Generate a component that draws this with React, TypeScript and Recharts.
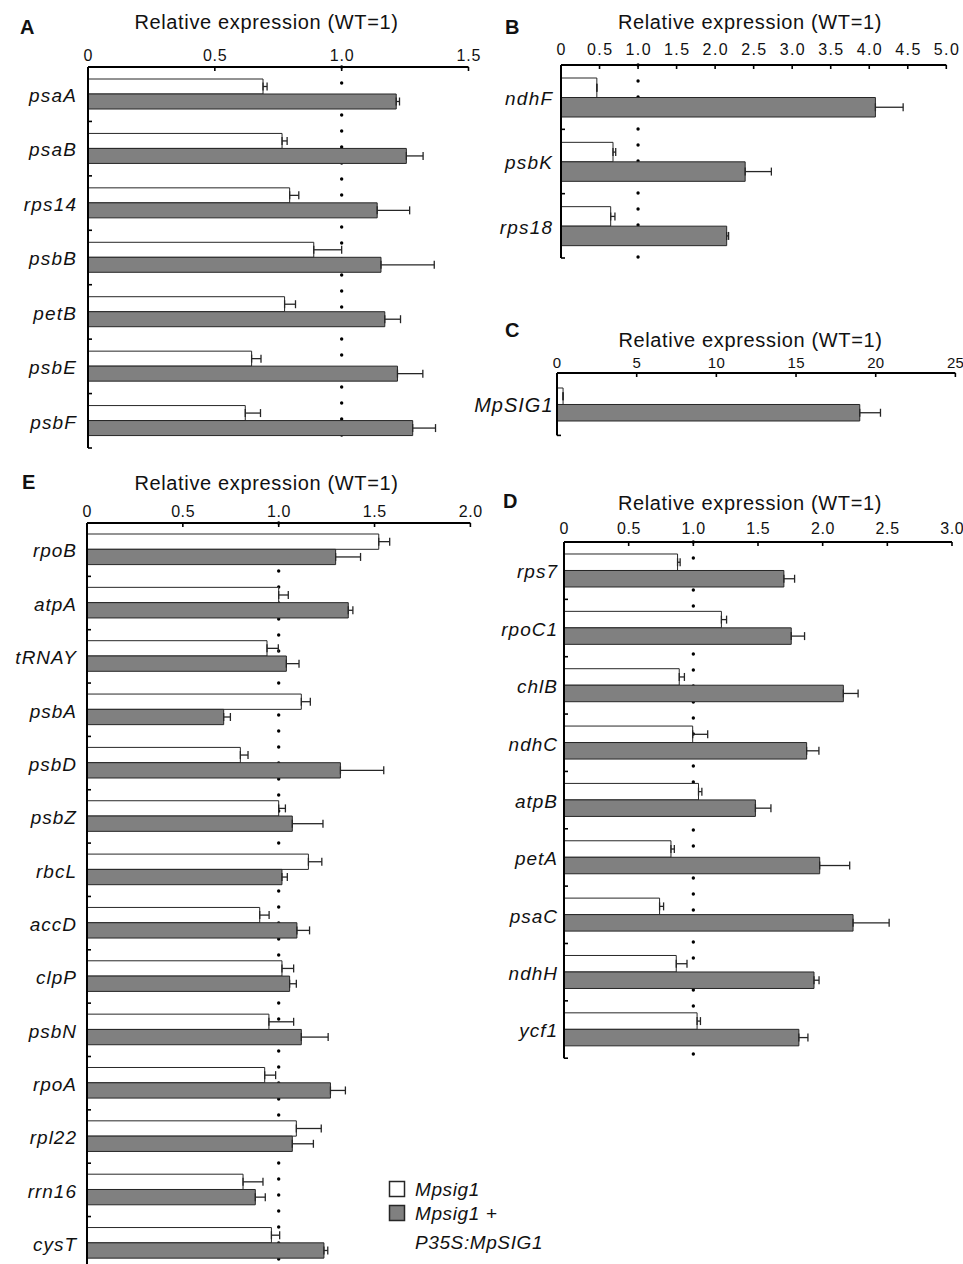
import React from 'react';
import { BarChart, Bar, XAxis, YAxis, CartesianGrid, ErrorBar } from 'recharts';

const FONT = '"Liberation Sans", Arial, Helvetica, sans-serif';
const GRAY = '#808080';
const EDGE = '#262626';

// ---- Panel A ----
const aGenes = ['psaA', 'psaB', 'rps14', 'psbB', 'petB', 'psbE', 'psbF'];
const aMutant = [0.69, 0.765, 0.795, 0.89, 0.775, 0.645, 0.62];
const aMutantErr = [0.016, 0.02, 0.036, 0.11, 0.043, 0.037, 0.06];
const aComp = [1.215, 1.255, 1.14, 1.155, 1.17, 1.22, 1.28];
const aCompErr = [0.013, 0.066, 0.128, 0.21, 0.062, 0.1, 0.09];
const aTicks = [0, 0.5, 1.0, 1.5];

// ---- Panel B ----
const bGenes = ['ndhF', 'psbK', 'rps18'];
const bMutant = [0.465, 0.675, 0.645];
const bMutantErr = [0, 0.035, 0.055];
const bComp = [4.08, 2.39, 2.15];
const bCompErr = [0.36, 0.34, 0.025];
const bTicks = [0, 0.5, 1.0, 1.5, 2.0, 2.5, 3.0, 3.5, 4.0, 4.5, 5.0];

// ---- Panel C ----
const cGenes = ['MpSIG1'];
const cMutant = [0.38];
const cMutantErr = [0];
const cComp = [19.0];
const cCompErr = [1.3];
const cTicks = [0, 5, 10, 15, 20, 25];

// ---- Panel D ----
const dGenes = ['rps7', 'rpoC1', 'chlB', 'ndhC', 'atpB', 'petA', 'psaC', 'ndhH', 'ycf1'];
const dMutant = [0.878, 1.217, 0.891, 0.995, 1.04, 0.827, 0.739, 0.868, 1.029];
const dMutantErr = [0.02, 0.04, 0.04, 0.116, 0.026, 0.026, 0.031, 0.083, 0.026];
const dComp = [1.7, 1.757, 2.16, 1.876, 1.48, 1.977, 2.235, 1.933, 1.816];
const dCompErr = [0.083, 0.103, 0.114, 0.095, 0.12, 0.232, 0.279, 0.039, 0.07];
const dTicks = [0, 0.5, 1.0, 1.5, 2.0, 2.5, 3.0];

// ---- Panel E ----
const eGenes = ['rpoB', 'atpA', 'tRNAY', 'psbA', 'psbD', 'psbZ', 'rbcL', 'accD', 'clpP', 'psbN', 'rpoA', 'rpl22', 'rrn16', 'cysT'];
const eMutant = [1.522, 1.0, 0.939, 1.118, 0.8, 1.0, 1.155, 0.901, 1.017, 0.949, 0.927, 1.092, 0.814, 0.962];
const eMutantErr = [0.057, 0.05, 0.059, 0.047, 0.04, 0.035, 0.07, 0.049, 0.061, 0.129, 0.057, 0.13, 0.104, 0.043];
const eComp = [1.297, 1.363, 1.04, 0.713, 1.322, 1.071, 1.017, 1.095, 1.057, 1.118, 1.27, 1.071, 0.878, 1.236];
const eCompErr = [0.13, 0.024, 0.066, 0.035, 0.226, 0.16, 0.028, 0.066, 0.035, 0.14, 0.078, 0.11, 0.052, 0.02];
const eTicks = [0, 0.5, 1.0, 1.5, 2.0];

const wtLevel = [1];
const axisTitle = 'Relative expression (WT=1)';
const legendLabels = ['Mpsig1', 'Mpsig1 +', 'P35S:MpSIG1'];

type PanelCfg = {
  genes: string[];
  mutant: number[];
  mutantErr: number[];
  comp: number[];
  compErr: number[];
  ticks: number[];
  decimals: number;
  x0: number;
  x1: number;
  yTop: number;
  yBottom: number;
  barSize: number;
  tickFs: number;
  tickLs: number;
  tickAbove: number;
  labelGap: number;
  labelFs: number;
  labelLs: number;
  refLine: boolean;
};

function Panel({ cfg }: { cfg: PanelCfg }) {
  const data = cfg.genes.map((g, i) => ({
    gene: g,
    mutant: cfg.mutant[i],
    mutantErr: [0, cfg.mutantErr[i]],
    comp: cfg.comp[i],
    compErr: [0, cfg.compErr[i]],
  }));
  const yAxisW = 95;
  const xAxisH = 30;
  const right = 16;
  const bottom = 4;
  const left = cfg.x0 - yAxisW;
  const top = cfg.yTop - xAxisH;
  const width = cfg.x1 - left + right;
  const height = cfg.yBottom - top + bottom;
  const half = (cfg.yBottom - cfg.yTop) / cfg.genes.length / 2;
  const fmt = (v: number) => (v === 0 ? '0' : v.toFixed(cfg.decimals));

  const xTick = (p: any) => {
    const { x, y, payload } = p;
    return (
      <g>
        <line x1={x} x2={x} y1={y} y2={y + 4} stroke="#000" strokeWidth={1.6} />
        <text
          x={x + cfg.tickLs / 2}
          y={y - cfg.tickAbove + 0.358 * cfg.tickFs}
          textAnchor="middle"
          fontSize={cfg.tickFs}
          letterSpacing={cfg.tickLs}
          fontFamily={FONT}
          fill="#111"
        >
          {fmt(payload.value)}
        </text>
      </g>
    );
  };

  const yTick = (p: any) => {
    const { x, y, payload } = p;
    return (
      <g>
        <line x1={x} x2={x + 4} y1={y + half} y2={y + half} stroke="#000" strokeWidth={1.6} />
        <text
          x={x - cfg.labelGap + cfg.labelLs}
          y={y + 0.358 * cfg.labelFs + 1}
          textAnchor="end"
          fontSize={cfg.labelFs}
          fontStyle="italic"
          letterSpacing={cfg.labelLs}
          fontFamily={FONT}
          fill="#111"
        >
          {payload.value}
        </text>
      </g>
    );
  };

  return (
    <div style={{ position: 'absolute', left, top, width, height }}>
      <BarChart
        width={width}
        height={height}
        data={data}
        layout="vertical"
        margin={{ top: 0, left: 0, right, bottom }}
        barGap={0}
        barCategoryGap={0}
      >
        {cfg.refLine && (
          <CartesianGrid
            horizontal={false}
            vertical
            verticalValues={wtLevel}
            stroke="#000"
            strokeWidth={3.4}
            strokeDasharray="0 16"
            strokeLinecap="round"
            fill="none"
          />
        )}
        <XAxis
          type="number"
          orientation="top"
          domain={[cfg.ticks[0], cfg.ticks[cfg.ticks.length - 1]]}
          ticks={cfg.ticks}
          allowDataOverflow
          height={xAxisH}
          axisLine={{ stroke: '#000', strokeWidth: 2 }}
          tickLine={false}
          tickSize={0}
          tickMargin={0}
          interval={0}
          tick={xTick}
        />
        <YAxis
          type="category"
          dataKey="gene"
          width={yAxisW}
          axisLine={{ stroke: '#000', strokeWidth: 2 }}
          tickLine={false}
          tickSize={0}
          tickMargin={0}
          interval={0}
          tick={yTick}
        />
        <Bar
          dataKey="mutant"
          fill="#ffffff"
          stroke={EDGE}
          strokeWidth={1}
          barSize={cfg.barSize}
          isAnimationActive={false}
        >
          <ErrorBar dataKey="mutantErr" direction="x" width={4} stroke={EDGE} strokeWidth={1.3} />
        </Bar>
        <Bar
          dataKey="comp"
          fill={GRAY}
          stroke={EDGE}
          strokeWidth={1}
          barSize={cfg.barSize}
          isAnimationActive={false}
        >
          <ErrorBar dataKey="compErr" direction="x" width={4} stroke={EDGE} strokeWidth={1.3} />
        </Bar>
      </BarChart>
    </div>
  );
}

const panelA: PanelCfg = {
  genes: aGenes, mutant: aMutant, mutantErr: aMutantErr, comp: aComp, compErr: aCompErr,
  ticks: aTicks, decimals: 1, x0: 88, x1: 468.5, yTop: 67, yBottom: 448, barSize: 15,
  tickFs: 16, tickLs: 0.8, tickAbove: 12, labelGap: 12, labelFs: 19, labelLs: 1.2, refLine: true,
};
const panelB: PanelCfg = {
  genes: bGenes, mutant: bMutant, mutantErr: bMutantErr, comp: bComp, compErr: bCompErr,
  ticks: bTicks, decimals: 1, x0: 560.7, x1: 946, yTop: 65, yBottom: 258, barSize: 19.5,
  tickFs: 16, tickLs: 1.4, tickAbove: 15.5, labelGap: 9, labelFs: 19, labelLs: 1.2, refLine: true,
};
const panelC: PanelCfg = {
  genes: cGenes, mutant: cMutant, mutantErr: cMutantErr, comp: cComp, compErr: cCompErr,
  ticks: cTicks, decimals: 0, x0: 557.3, x1: 955.7, yTop: 373.3, yBottom: 435.7, barSize: 16.5,
  tickFs: 15, tickLs: 0.3, tickAbove: 10.5, labelGap: 4.5, labelFs: 20, labelLs: 1.0, refLine: false,
};
const panelD: PanelCfg = {
  genes: dGenes, mutant: dMutant, mutantErr: dMutantErr, comp: dComp, compErr: dCompErr,
  ticks: dTicks, decimals: 1, x0: 564, x1: 952, yTop: 541.5, yBottom: 1057.7, barSize: 16.5,
  tickFs: 16, tickLs: 0.6, tickAbove: 13.5, labelGap: 7, labelFs: 19, labelLs: 1.0, refLine: true,
};
const panelE: PanelCfg = {
  genes: eGenes, mutant: eMutant, mutantErr: eMutantErr, comp: eComp, compErr: eCompErr,
  ticks: eTicks, decimals: 1, x0: 87.3, x1: 470.7, yTop: 522.5, yBottom: 1269.4, barSize: 15.3,
  tickFs: 16, tickLs: 0.6, tickAbove: 12, labelGap: 11, labelFs: 19, labelLs: 1.0, refLine: true,
};

const titles = [
  { letter: 'A', lx: 20, ly: 26.7, tx: 266.5, ty: 22.2 },
  { letter: 'B', lx: 505, ly: 26.7, tx: 750, ty: 22.2 },
  { letter: 'C', lx: 505, ly: 330, tx: 750.5, ty: 340 },
  { letter: 'D', lx: 503, ly: 501, tx: 750, ty: 502.5 },
  { letter: 'E', lx: 22, ly: 481.7, tx: 266.5, ty: 482.5 },
];

function Overlay() {
  const tfs = 20;
  const lfs = 20;
  const gfs = 19;
  return (
    <svg
      width={963}
      height={1264}
      style={{ position: 'absolute', left: 0, top: 0, pointerEvents: 'none' }}
    >
      {titles.map((t) => (
        <g key={t.letter}>
          <text
            x={t.lx}
            y={t.ly + 0.358 * lfs}
            fontSize={lfs}
            fontWeight="bold"
            fontFamily={FONT}
            fill="#111"
          >
            {t.letter}
          </text>
          <text
            x={t.tx}
            y={t.ty + 0.358 * tfs}
            fontSize={tfs}
            textAnchor="middle"
            letterSpacing={0.65}
            fontFamily={FONT}
            fill="#111"
          >
            {axisTitle}
          </text>
        </g>
      ))}
      <rect x={389.5} y={1181.5} width={15} height={15} fill="#fff" stroke={EDGE} strokeWidth={1.5} />
      <rect x={389.5} y={1205.5} width={15} height={15} fill={GRAY} stroke={EDGE} strokeWidth={1.5} />
      <text x={415} y={1189.3 + 0.358 * gfs} fontSize={gfs} fontStyle="italic" letterSpacing={0.6} fontFamily={FONT} fill="#111">
        {legendLabels[0]}
      </text>
      <text x={415} y={1213.3 + 0.358 * gfs} fontSize={gfs} fontStyle="italic" letterSpacing={0.6} fontFamily={FONT} fill="#111">
        {legendLabels[1]}
      </text>
      <text x={415} y={1242.5 + 0.358 * gfs} fontSize={gfs} fontStyle="italic" letterSpacing={0.6} fontFamily={FONT} fill="#111">
        {legendLabels[2]}
      </text>
    </svg>
  );
}

export default function App() {
  return (
    <div
      style={{
        position: 'absolute',
        left: 0,
        top: 0,
        width: 963,
        height: 1264,
        overflow: 'hidden',
        background: '#fff',
        fontFamily: FONT,
      }}
    >
      <Overlay />
      <Panel cfg={panelA} />
      <Panel cfg={panelB} />
      <Panel cfg={panelC} />
      <Panel cfg={panelD} />
      <Panel cfg={panelE} />
    </div>
  );
}
